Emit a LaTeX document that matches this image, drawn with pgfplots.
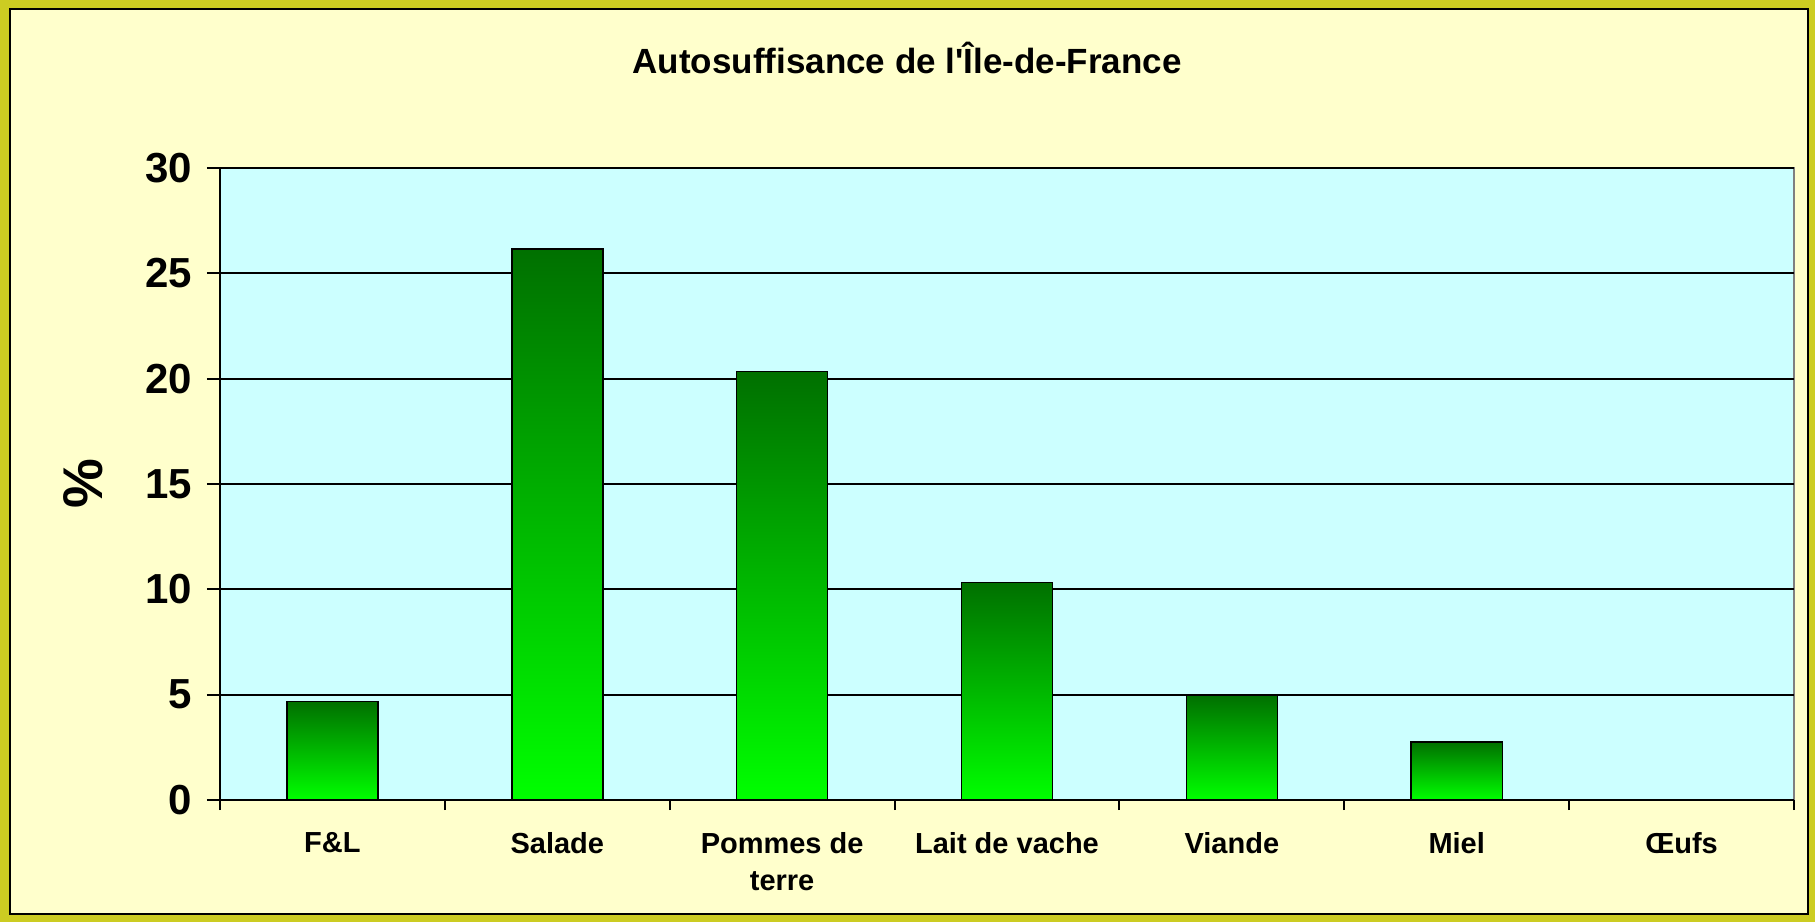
\documentclass[border=0pt]{standalone}
\usepackage{pgfplots}
\pgfplotsset{compat=1.18}
\usepackage{fontspec}
\setmainfont{Liberation Sans}[Ligatures=TeXOff]

\definecolor{cadre}{RGB}{204,204,34}
\definecolor{fond}{RGB}{255,255,204}
\definecolor{zone}{RGB}{204,255,255}
\definecolor{vertfonce}{RGB}{0,112,0}
\definecolor{vertclair}{RGB}{0,255,0}

\begin{document}
\begin{tikzpicture}
% fond du graphique
\fill[cadre] (-110pt,-61pt) rectangle (797.5pt,400pt);
\filldraw[fill=fond, draw=black, line width=1pt] (-105pt,-57pt) rectangle (794pt,395.5pt);

\begin{axis}[
    scale only axis,
    width=787pt, height=316pt,
    xmin=-0.5, xmax=6.5,
    ymin=0, ymax=30,
    ytick={0,5,...,30},
    xtick={0,...,6},
    xticklabels={F\&L, Salade, {Pommes de\\terre}, Lait de vache, Viande, Miel, Œufs},
    minor xtick={-0.5,0.5,...,6.5},
    major x tick style={draw=none},
    tick align=outside,
    major tick length=6.5pt,
    minor tick length=5pt,
    tick style={black, line width=1pt},
    axis x line*=bottom,
    axis y line*=left,
    axis line style={-, black, line width=1pt},
    axis background/.style={fill=zone, draw=gray, line width=0.6pt},
    ymajorgrids,
    grid style={black, line width=1pt},
    /pgf/number format/assume math mode=true,
    yticklabel style={font=\fontsize{21}{25}\selectfont\bfseries, anchor=east, xshift=-4pt},
    xticklabel style={font=\fontsize{14.5}{18.5}\selectfont\bfseries, align=center, anchor=north, yshift=-6pt},
    ylabel={\%},
    every axis y label/.style={at={(axis description cs:0,0.5)}, xshift=-68.5pt, rotate=90, anchor=center,
        font=\fontsize{28}{32}\selectfont\bfseries},
    ybar,
    bar width=0.405,
    bar shift=0pt,
    barre/.style={draw=black, line width=0.75pt, top color=vertfonce, bottom color=vertclair},
]
% une barre par \addplot pour que chaque barre ait son propre dégradé
\addplot[barre] coordinates {(0,4.67)};
\addplot[barre] coordinates {(1,26.15)};
\addplot[barre] coordinates {(2,20.33)};
\addplot[barre] coordinates {(3,10.33)};
\addplot[barre] coordinates {(4,4.95)};
\addplot[barre] coordinates {(5,2.75)};
\addplot[barre] coordinates {(6,0)};
\end{axis}

\node[font=\fontsize{17.5}{20}\selectfont\bfseries] at (343.5pt,371pt) {Autosuffisance de l'Île-de-France};
\end{tikzpicture}
\end{document}
